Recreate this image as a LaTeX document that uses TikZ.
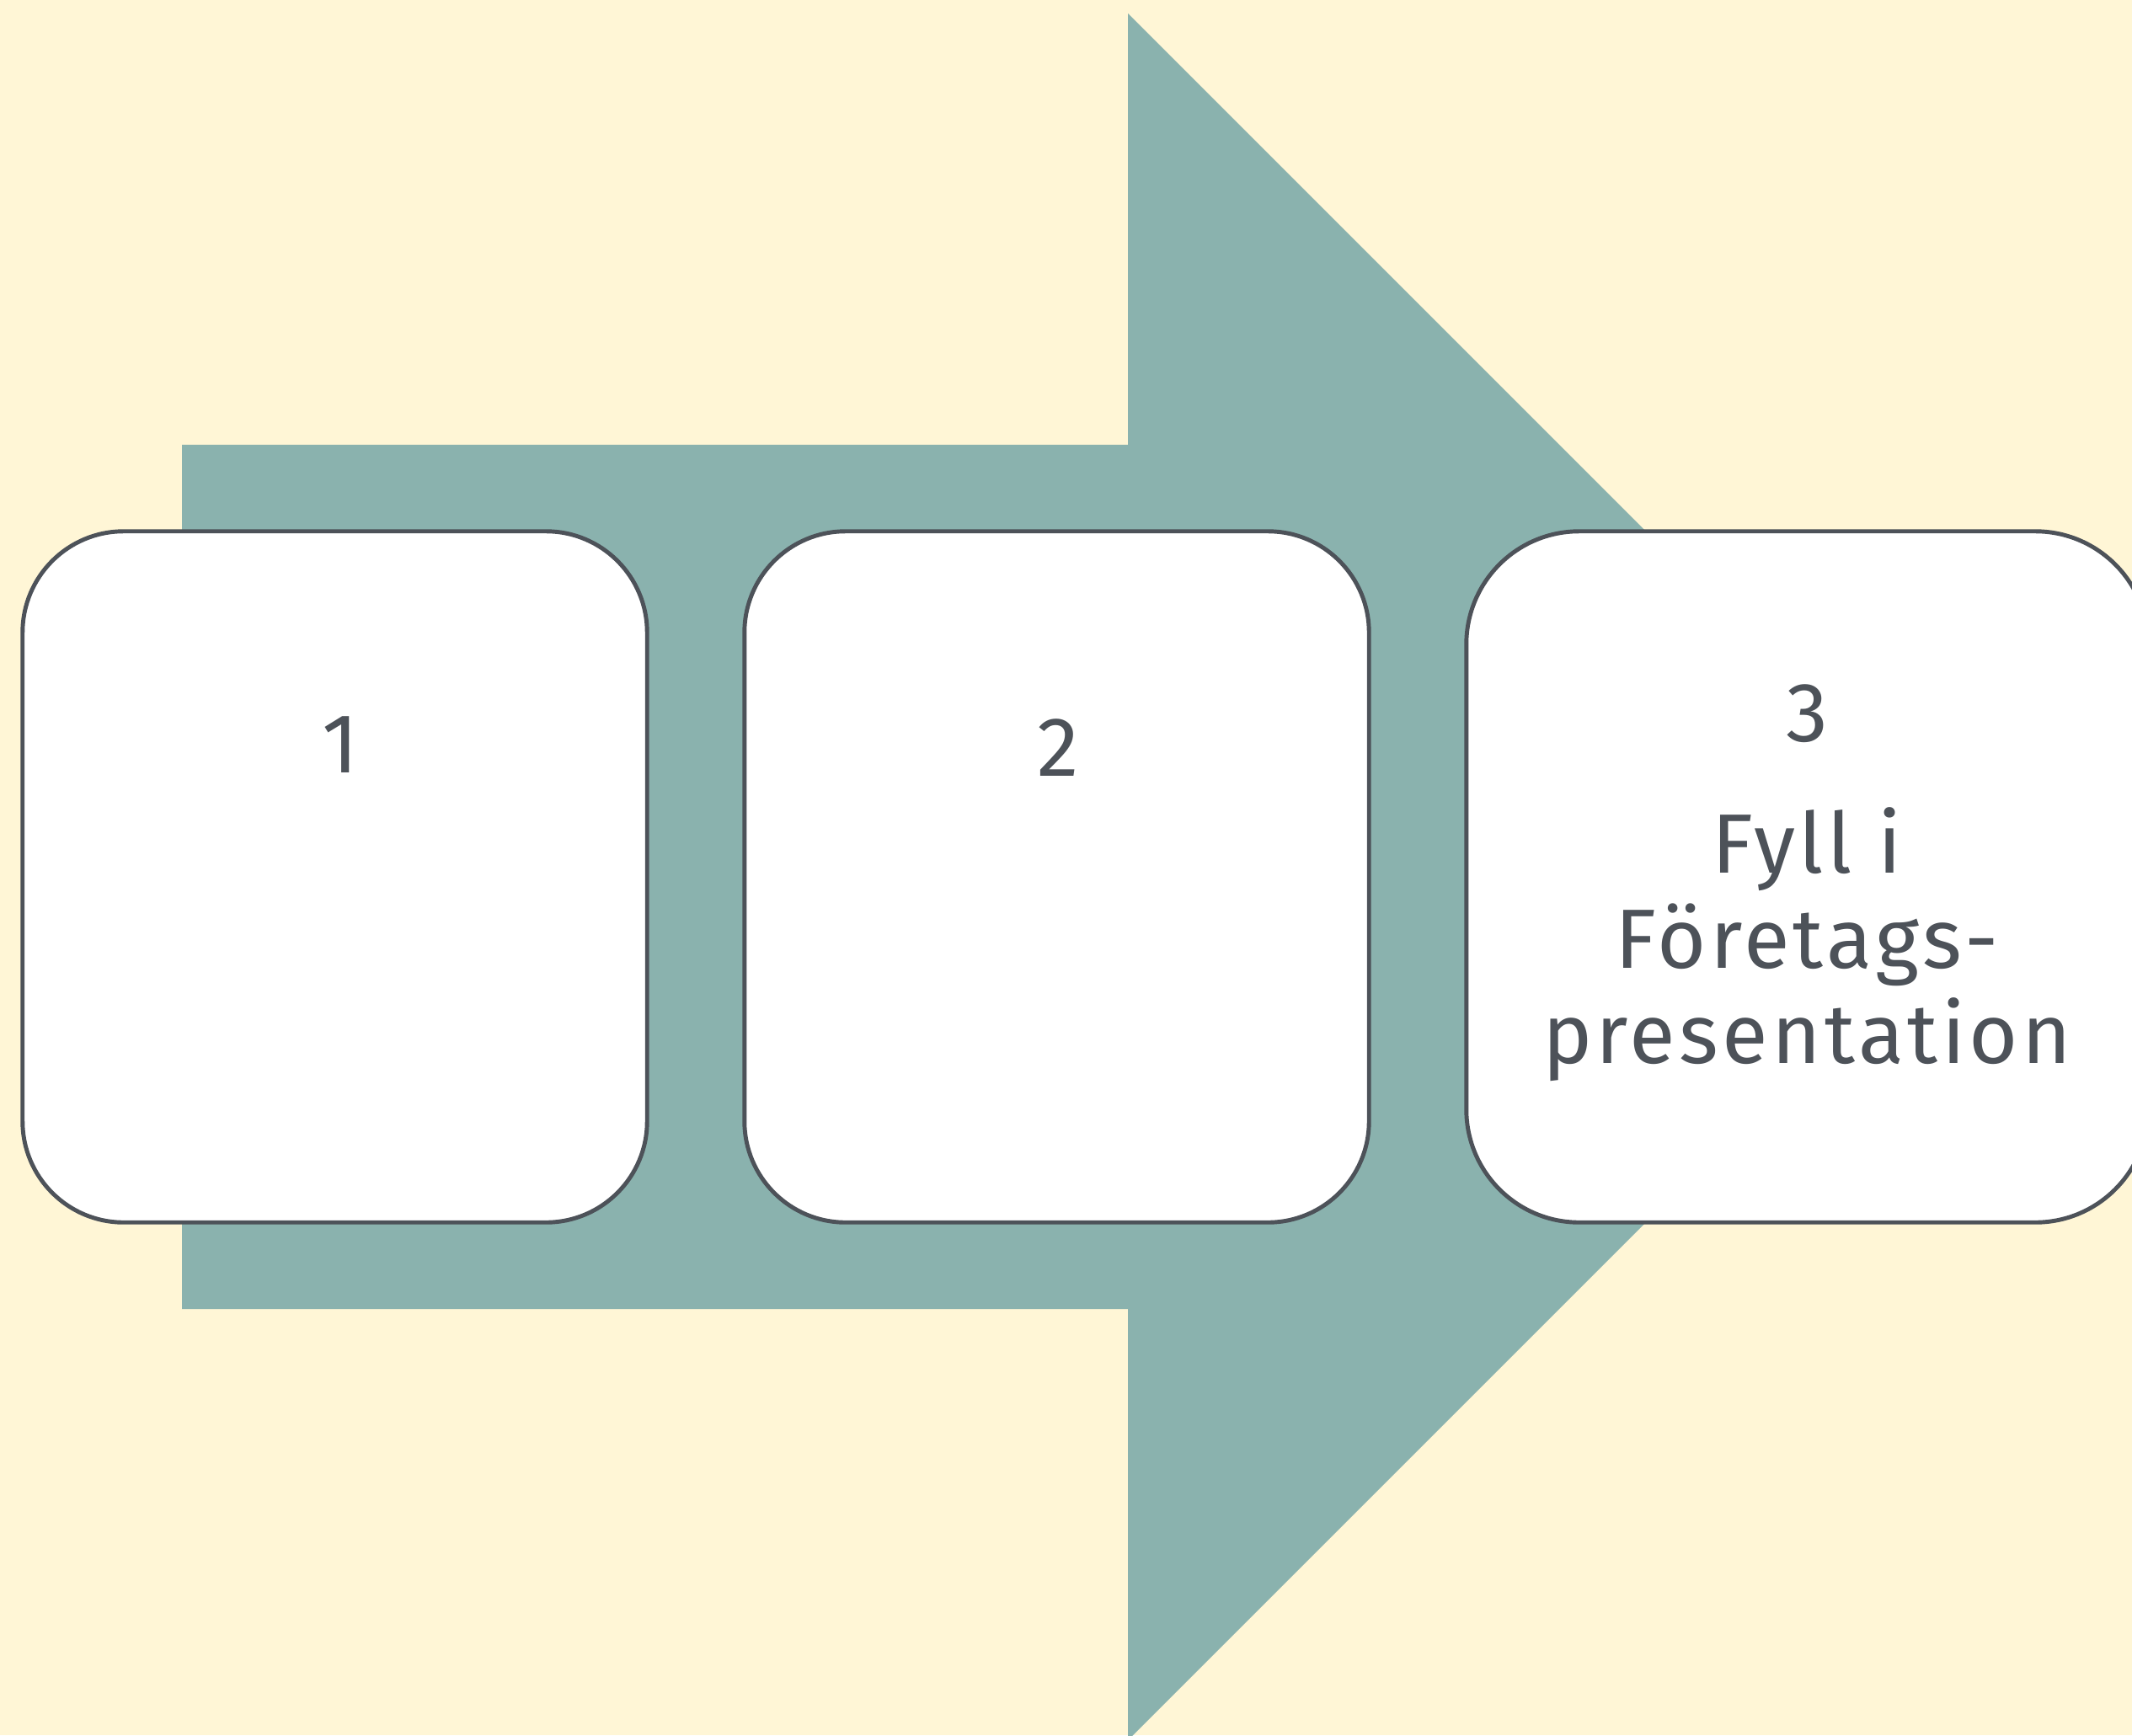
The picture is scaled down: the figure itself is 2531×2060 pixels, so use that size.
\documentclass[tikz,border=0pt]{standalone}
\usepackage{fontspec}
\setmainfont{Fira Sans}
\usetikzlibrary{positioning}
\definecolor{cream}{HTML}{FFF6D6}
\definecolor{arrowgreen}{HTML}{8AB2AE}
\definecolor{edgegray}{HTML}{4D5259}

\begin{document}
\begin{tikzpicture}[x=0.01cm, y=-0.01cm,
    card/.style={draw=edgegray, fill=white, line width=1.4pt, rounded corners=1.2cm,
        minimum width=7.41cm, minimum height=8.2cm},
    num/.style={text=edgegray, inner sep=0pt,
        font=\fontsize{28.4}{32.1}\selectfont\addfontfeatures{LetterSpace=4.4}}]
        % background
        \fill[cream] (0,0) rectangle (2531,2060);
        \useasboundingbox (0,0) rectangle (2531,2060);

        % big arrow behind the cards
        \fill[arrowgreen] (216,528) -- (1339,528) -- (1339,16) -- (2364,1041)
            -- (1339,2066) -- (1339,1554) -- (216,1554) -- cycle;

        % cards
        \node[card] (box1) at (397.5,1041) {};
        \node[card] (box2) at (1254.5,1041) {};
        \node[card, minimum width=8.09cm, rounded corners=1.34cm] (box3) at (2145.5,1041) {};

        % labels
        \node[num, anchor=base] (lab1) at (404,917) {1};
        \node[num, anchor=base] (lab2) at (1256,921) {2};
        \node[num, align=center, anchor=north] (lab3) at (2145,812)
            {3\\[0.43cm]Fyll i\\Företags-\\presentation};
    \end{tikzpicture}
\end{document}
